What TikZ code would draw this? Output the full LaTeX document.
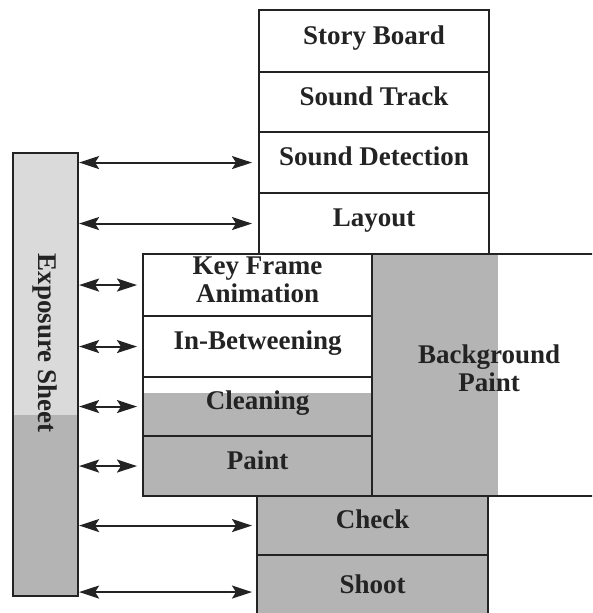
\documentclass[tikz,border=0pt]{standalone}
\usepackage{fontspec}
\setmainfont{Liberation Serif}
\usetikzlibrary{arrows.meta}
\definecolor{lightshade}{RGB}{218,218,218}
\definecolor{darkshade}{RGB}{180,180,180}
\definecolor{inkc}{RGB}{35,35,35}
\begin{document}
\begin{tikzpicture}[x=1pt,y=-1pt,
  basebox/.style={draw=inkc, line width=2.1pt, rectangle, inner sep=0pt, anchor=north west,
    text=inkc, font=\bfseries\fontsize{27}{28}\selectfont},
  box/.style={basebox, text height=18pt, text depth=12pt},
  dbl/.style={draw=inkc, line width=2pt,
    {Stealth[length=20pt,width=13pt,inset=4pt]}-{Stealth[length=20pt,width=13pt,inset=4pt]}}]
\clip (0,0) rectangle (592,613);
\fill[white] (0,0) rectangle (592,613);
% shaded areas
\fill[lightshade] (12,152) rectangle (77,415);
\fill[darkshade] (12,415) rectangle (77,595);
\fill[darkshade] (142,393) rectangle (371,495);
\fill[darkshade] (371,253) rectangle (498,495);
\fill[darkshade] (256,495) rectangle (487,625);
% top column
\node[box, minimum width=230pt, minimum height=62pt] (sb) at (258,9) {Story Board};
\node[box, minimum width=230pt, minimum height=60pt] (st) at (258,71) {Sound Track};
\node[box, minimum width=230pt, minimum height=61pt] (sd) at (258,131) {Sound Detection};
\node[box, minimum width=230pt, minimum height=61pt] (lay) at (258,192) {Layout};
% middle column
\node[basebox, align=center, text depth=10pt, minimum width=229pt, minimum height=62pt] (kf) at (142,253) {Key Frame\\Animation};
\node[box, minimum width=229pt, minimum height=61pt] (ib) at (142,315) {In-Betweening};
\node[box, minimum width=229pt, minimum height=59pt] (cl) at (142,376) {Cleaning};
\node[box, minimum width=229pt, minimum height=60pt] (pt) at (142,435) {Paint};
\node[basebox, align=center, text depth=14pt, minimum width=234pt, minimum height=242pt] (bg) at (371,253) {Background\\Paint};
% bottom column
\node[box, minimum width=231pt, minimum height=59pt] (ck) at (256,495) {Check};
\node[box, minimum width=231pt, minimum height=70pt] (sh) at (256,554) {Shoot};
% exposure sheet
\node[basebox, minimum width=65pt, minimum height=443pt] (es) at (12,152) {};
\node[rotate=-90, text=inkc, font=\bfseries\fontsize{27}{28}\selectfont] (esl) at (45,343) {Exposure Sheet};
% connectors
\draw[dbl] (es.east |- sd.west) -- ([xshift=-6pt]sd.west);
\draw[dbl] (es.east |- lay.west) -- ([xshift=-6pt]lay.west);
\draw[dbl] (es.east |- kf.west) -- ([xshift=-5pt]kf.west);
\draw[dbl] (es.east |- ib.west) -- ([xshift=-5pt]ib.west);
\draw[dbl] (es.east |- cl.west) -- ([xshift=-5pt]cl.west);
\draw[dbl] (es.east |- pt.west) -- ([xshift=-5pt]pt.west);
\draw[dbl] (es.east |- ck.west) -- ([xshift=-4pt]ck.west);
\draw[dbl] ([yshift=-2pt]es.east |- sh.west) -- ([xshift=-4pt,yshift=-2pt]sh.west);
\end{tikzpicture}
\end{document}
